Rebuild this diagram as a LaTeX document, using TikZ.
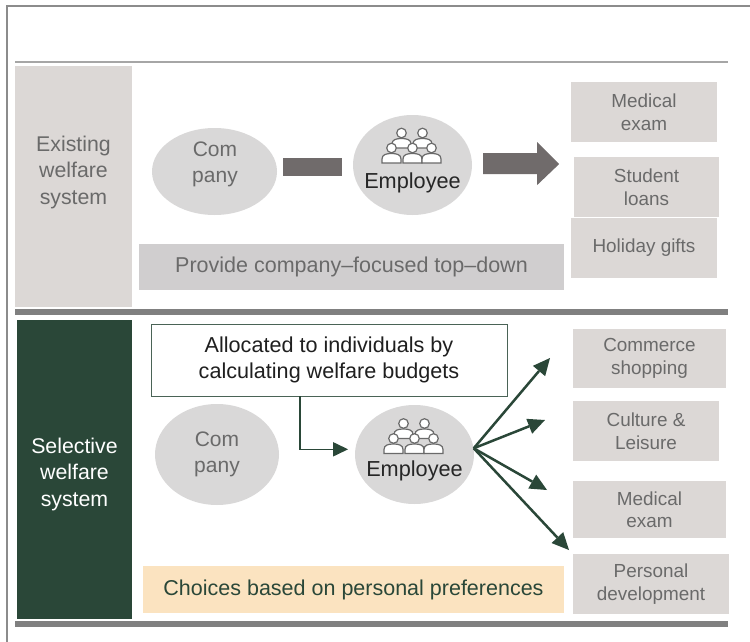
\documentclass[tikz,border=0pt]{standalone}
\usepackage{fontspec}
\setmainfont{Liberation Sans}
\usetikzlibrary{arrows.meta,calc,shapes.geometric}
\definecolor{boxc}{HTML}{DCD8D6}
\definecolor{boxtext}{HTML}{6A6A6A}
\definecolor{ellc}{HTML}{D9D8D8}
\definecolor{darkbar}{HTML}{706B6B}
\definecolor{provc}{HTML}{D0CECF}
\definecolor{greenc}{HTML}{2A4738}
\definecolor{choicec}{HTML}{FBE3C0}
\definecolor{framec}{HTML}{8C8C8C}
\definecolor{thinc}{HTML}{A6A6A6}
\definecolor{thickc}{HTML}{808080}
\definecolor{iconc}{HTML}{6A6A6A}
\newcommand\fanarrow[2]{%
  \coordinate (#2base) at ($(#2)!17pt!(#1)$);
  \draw[greenc, line width=2.5pt] (#1) -- (#2base);
  \fill[greenc] (#2) -- ($(#2base)!8pt!90:(#2)$) -- ($(#2base)!8pt!-90:(#2)$) -- cycle;}
\begin{document}
\begin{tikzpicture}[x=1pt,y=-1pt,
  gbox/.style={fill=boxc, text=boxtext, align=center, inner sep=0pt,
    font=\fontsize{18.9}{22.5}\selectfont},
  ell/.style={ellipse, fill=ellc, inner sep=0pt},
  elltext/.style={text=boxtext, align=center, inner sep=0pt,
    font=\fontsize{21}{26}\selectfont},
  emptext/.style={text=black!85, inner sep=0pt, font=\fontsize{21.7}{25}\selectfont},
  person/.pic={
    \path[fill=white, draw=iconc, line width=1.2pt]
      (-9.5,15) -- (-9.5,11) .. controls (-9.5,6.5) and (-5,5.5) .. (0,5.5)
      .. controls (5,5.5) and (9.5,6.5) .. (9.5,11) -- (9.5,15) -- cycle;
    \path[fill=white, draw=iconc, line width=1.2pt] (0,0) circle (4.8);
  }]
\useasboundingbox (0,0) rectangle (750,642);
% outer frame
\draw[framec, line width=2pt] (7,642) -- (7,6) -- (750,6);
% separators
\draw[thinc, line width=2pt] (15,62) -- (728,62);
\draw[thickc, line width=6pt] (15,312) -- (728,312);
\draw[thickc, line width=6pt] (15,624) -- (728,624);

% ---------- Existing welfare system ----------
\fill[boxc] (15,66) rectangle (132,307);
\node[text=boxtext, align=center, inner sep=0pt, font=\fontsize{21.3}{26.5}\selectfont]
  (exist) at (73.5,172) {Existing\\welfare\\system};

\node[ell, minimum width=125pt, minimum height=87pt] (comp1) at (214.5,171.5) {};
\node[elltext] (comp1t) at (215,164) {Com\\pany};
\node[ell, minimum width=119pt, minimum height=100pt] (emp1) at (412.5,165) {};
\pic at ($(emp1.center)+(-11,-32)$) {person};
\pic at ($(emp1.center)+(10,-32)$) {person};
\pic at ($(emp1.center)+(-21,-17)$) {person};
\pic at ($(emp1.center)+(0,-17)$) {person};
\pic at ($(emp1.center)+(19,-17)$) {person};
\node[emptext] (emp1t) at ($(emp1.center)+(0,18)$) {Employee};

% gray bar connector
\draw[darkbar, line width=18pt] ([xshift=6pt]comp1.east |- emp1.west) ++(0,2) -- ++(59,0);
% big arrow
\fill[darkbar] ([xshift=11pt]emp1.east) ++(0,-12) -- ++(54,0) -- ++(0,-11)
  -- ++(22,22) -- ++(-22,21) -- ++(0,-11) -- ++(-54,0) -- cycle;

\node[fill=provc, text=boxtext, inner sep=0pt, minimum width=425pt, minimum height=46pt,
  font=\fontsize{21.5}{24}\selectfont] (prov) at (351.5,267) {Provide company–focused top–down};

\node[gbox, minimum width=146pt, minimum height=60pt] (r1) at (644,112) {Medical\\exam};
\node[gbox, minimum width=145pt, minimum height=60pt] (r2) at (646.5,187) {Student\\loans};
\node[gbox, minimum width=146pt, minimum height=60pt] (r3) at (644,248) {Holiday gifts};

% ---------- Selective welfare system ----------
\fill[greenc] (17,320) rectangle (132,619);
\node[text=white, align=center, inner sep=0pt, font=\fontsize{21.3}{26.5}\selectfont]
  (selec) at (74.5,474) {Selective\\welfare\\system};

\node[draw=greenc!85, line width=0.9pt, fill=white, text=black!88, align=center,
  inner sep=0pt, minimum width=356pt, minimum height=72pt,
  font=\fontsize{21.6}{25.5}\selectfont] (alloc) at (329,360)
  {Allocated to individuals by\\calculating welfare budgets};

\node[ell, minimum width=124pt, minimum height=101pt] (comp2) at (217,454.5) {};
\node[elltext] (comp2t) at (217,454.5) {Com\\pany};
\node[ell, minimum width=119pt, minimum height=99pt] (emp2) at (414.5,454.5) {};
\pic at ($(emp2.center)+(-11,-31)$) {person};
\pic at ($(emp2.center)+(10,-31)$) {person};
\pic at ($(emp2.center)+(-21,-16)$) {person};
\pic at ($(emp2.center)+(0,-16)$) {person};
\pic at ($(emp2.center)+(19,-16)$) {person};
\node[emptext] (emp2t) at ($(emp2.center)+(0,16)$) {Employee};

\draw[greenc, line width=1.6pt, -{Triangle[length=15pt,width=14pt]}, shorten >=7pt]
  ($(alloc.south)+(-29,0)$) |- (emp2.175);

\node[fill=choicec, text=greenc, inner sep=0pt, minimum width=421pt, minimum height=47pt,
  font=\fontsize{21.5}{24}\selectfont] (choice) at (353.5,589.5) {Choices based on personal preferences};

\node[gbox, minimum width=153pt, minimum height=59pt] (s1) at (649.5,358.5) {Commerce\\shopping};
\node[gbox, minimum width=146pt, minimum height=60pt] (s2) at (646,431) {Culture \&\\Leisure};
\node[gbox, minimum width=153pt, minimum height=57pt] (s3) at (649.5,509.5) {Medical\\exam};
\node[gbox, minimum width=156pt, minimum height=60pt] (s4) at (651,584) {Personal\\development};

\coordinate (fo) at (emp2.6);
\coordinate (t1) at (550,358);
\coordinate (t2) at (545,420);
\coordinate (t3) at (547,490);
\coordinate (t4) at (569,550);
\fanarrow{fo}{t1}
\fanarrow{fo}{t2}
\fanarrow{fo}{t3}
\fanarrow{fo}{t4}
\end{tikzpicture}
\end{document}
